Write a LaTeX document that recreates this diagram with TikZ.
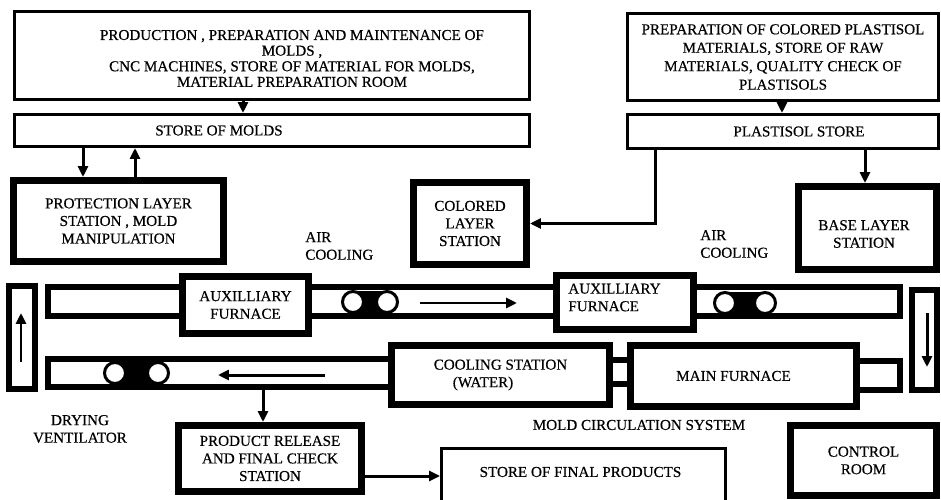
\documentclass[tikz,border=0pt]{standalone}
\usepackage{fontspec}
\setmainfont{Liberation Serif}[FakeBold=0.4]
\usetikzlibrary{arrows.meta}

\begin{document}
\begin{tikzpicture}[x=0.02cm, y=-0.02cm,
    font=\fontsize{8.6}{10}\selectfont,
    >={Triangle[length=0.22cm, width=0.2cm]},
    thinbox/.style={draw, line width=0.06cm, fill=white, align=center, inner sep=0pt},
    thickbox/.style={draw, line width=0.14cm, fill=white, align=center, inner sep=0pt},
    rail/.style={draw, line width=0.12cm, fill=white, inner sep=0pt},
    roller/.style={draw, circle, line width=0.06cm, fill=white, minimum size=0.42cm, inner sep=0pt},
    flow/.style={->, line width=0.06cm},
    txt/.style={align=center, inner sep=0pt}]
            \fill[white] (0,0) rectangle (941,500);
            \useasboundingbox (0,0) rectangle (941,500);

            % Stores
            \node[thinbox, minimum width=10.30cm, minimum height=1.76cm] (molds) at (272,55.5) {};
            \node[txt, font=\fontsize{8.6}{8.9}\selectfont] (moldstext) at (292,58.5) {PRODUCTION , PREPARATION  AND  MAINTENANCE  OF\\ MOLDS ,\\ CNC MACHINES,  STORE  OF  MATERIAL  FOR MOLDS,\\ MATERIAL PREPARATION  ROOM};
            \node[thinbox, minimum width=10.30cm, minimum height=0.64cm] (moldstore) at (272,130.5) {};
            \node[txt] (moldstoretext) at (219,130.5) {STORE  OF MOLDS};

            \node[thinbox, minimum width=6.22cm, minimum height=1.74cm, font=\fontsize{8.6}{10.5}\selectfont] (plastisol) at (783,57) {PREPARATION OF  COLORED PLASTISOL\\ MATERIALS,  STORE OF  RAW\\ MATERIALS, QUALITY CHECK  OF\\ PLASTISOLS};
            \node[thinbox, minimum width=6.22cm, minimum height=0.68cm] (plastore) at (783,131.5) {};
            \node[txt] (plastoretext) at (799,131.5) {PLASTISOL STORE};

            % Stations
            \node[thickbox, minimum width=4.2cm, minimum height=1.62cm] (protection) at (118.5,221) {PROTECTION  LAYER\\ STATION , MOLD\\ MANIPULATION};
            \node[thickbox, minimum width=2.26cm, minimum height=1.64cm] (colored) at (470,223.5) {COLORED\\ LAYER\\ STATION};
            \node[thickbox, minimum width=2.76cm, minimum height=1.66cm] (base) at (867.5,228) {};
            \node[txt] (basetext) at (864,234) {BASE LAYER\\ STATION};

            \node[txt, align=left, anchor=west] (aircoolone) at (305,246) {AIR\\ COOLING};
            \node[txt, align=left, anchor=west] (aircooltwo) at (700,244) {AIR\\ COOLING};

            % Circulation rails
            \node[rail, minimum width=17.04cm, minimum height=0.58cm] (uprail) at (474,301.5) {};
            \node[rail, minimum width=6.98cm, minimum height=0.56cm] (lowrail) at (222.5,373) {};
            \node[rail, minimum width=0.48cm, minimum height=0.48cm] (link) at (620,372) {};
            \node[rail, minimum width=0.94cm, minimum height=0.58cm] (stub) at (876.5,375.5) {};
            \node[rail, minimum width=0.52cm, minimum height=2.06cm] (leftrail) at (22,337.5) {};
            \node[rail, minimum width=0.50cm, minimum height=2.0cm] (rightrail) at (924.5,340) {};

            % Rollers
            \fill (353,291) rectangle (387,313);
            \node[roller] (rollone) at (353,302) {};
            \node[roller] (rolltwo) at (387,302) {};
            \fill (725,292) rectangle (765,314);
            \node[roller] (rollthree) at (725,303) {};
            \node[roller] (rollfour) at (765,303) {};
            \fill (115,362) rectangle (158,384);
            \node[roller] (rollfive) at (115,373) {};
            \node[roller] (rollsix) at (158,373) {};

            % Furnaces
            \node[thickbox, minimum width=2.52cm, minimum height=1.14cm] (auxone) at (245.5,305) {AUXILLIARY\\ FURNACE};
            \node[thickbox, minimum width=2.74cm, minimum height=1.08cm] (auxtwo) at (625,302.5) {};
            \node[txt, align=left, anchor=west] (auxtwotext) at (568,297.5) {AUXILLIARY\\ FURNACE};
            \node[thickbox, minimum width=4.36cm, minimum height=1.18cm] (cooling) at (500.5,375) {COOLING STATION\\ (WATER)\hspace*{0.7cm}};
            \node[thickbox, minimum width=4.52cm, minimum height=1.22cm] (mainfurnace) at (743.5,376) {MAIN FURNACE\hspace*{0.4cm}};

            % Flow in rails
            \coordinate (upfrom) at (420,303);
            \coordinate (upto) at (517,303);
            \coordinate (lowfrom) at (325,375);
            \coordinate (lowto) at (218,375);
            \coordinate (leftfrom) at (21,362);
            \coordinate (leftto) at (21,313);
            \coordinate (rightfrom) at (927,313);
            \coordinate (rightto) at (927,367);
            \draw[flow] (upfrom) -- (upto);
            \draw[flow] (lowfrom) -- (lowto);
            \draw[flow] (leftfrom) -- (leftto);
            \draw[flow] (rightfrom) -- (rightto);

            \node[txt] (drying) at (80,429) {DRYING\\ VENTILATOR};
            \node[txt] (circulation) at (639,425) {MOLD  CIRCULATION SYSTEM};

            % Output
            \node[thickbox, minimum width=3.66cm, minimum height=1.32cm] (release) at (270,458.5) {PRODUCT RELEASE\\ AND  FINAL CHECK\\ STATION};
            \node[thinbox, minimum width=5.68cm, minimum height=1.6cm] (finalstore) at (583.5,488.5) {};
            \node[txt] (finaltext) at (580.5,472) {STORE OF FINAL PRODUCTS};
            \node[thickbox, minimum width=2.92cm, minimum height=1.4cm] (control) at (863.5,460.5) {CONTROL\\ ROOM};

            % Arrows
            \draw[flow] (molds.south -| 243,0) -- (moldstore.north -| 243,0);
            \draw[flow] (moldstore.south -| 83,0) -- (protection.north -| 83,0);
            \draw[flow] (protection.north -| 135,0) -- (moldstore.south -| 135,0);
            \draw[flow] (plastisol.south -| 782,0) -- (plastore.north -| 782,0);
            \draw[flow] (plastore.south -| 865,0) -- (base.north -| 865,0);
            \draw[flow] (plastore.south -| 655,0) |- (colored.east);
            \draw[flow] (lowrail.south -| 263,0) -- (release.north -| 263,0);
            \draw[flow] (release.east |- 0,476) -- (finalstore.west |- 0,476);
        \end{tikzpicture}
\end{document}
